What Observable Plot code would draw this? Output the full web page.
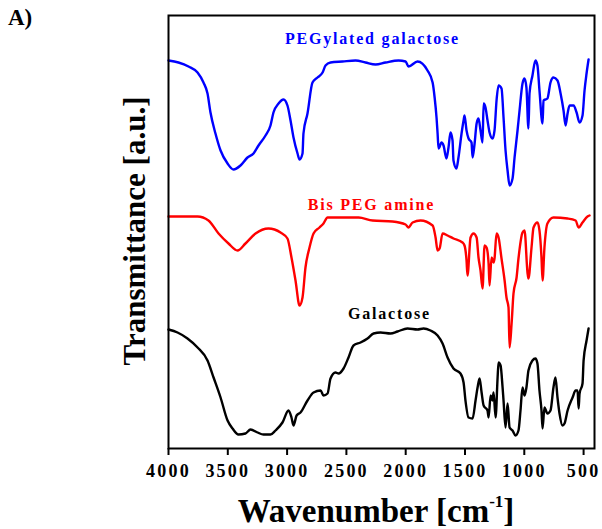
<!DOCTYPE html>
<html>
<head>
<meta charset="utf-8">
<script src="https://cdn.jsdelivr.net/npm/d3@7"></script>
<script src="https://cdn.jsdelivr.net/npm/@observablehq/plot@0.6"></script>
<style>
  html, body { margin: 0; padding: 0; background: #fff; }
  #chart { width: 602px; height: 529px; }
</style>
</head>
<body>
<div id="chart"></div>
<script>
// Wavenumber (cm^-1) and transmittance (a.u.)
const pegylatedGalactose = [
  [4000,388],[3916,386],[3831,382],[3755,376],[3705,366],[3671,355],[3646,336],[3604,315],[3561,298],[3502,285],
  [3452,279],[3393,283],[3334,291],[3283,295],[3241,303],[3182,313],[3140,323],[3115,336],[3072,345],[3030,349],
  [2997,343],[2971,328],[2946,311],[2912,295],[2895,289],[2870,295],[2862,315],[2828,335],[2786,366],[2744,371],
  [2701,376],[2676,383],[2634,386],[2533,387],[2423,388],[2339,386],[2254,384],[2170,386],[2060,388],[2001,387],
  [1976,382],[1900,387],[1816,378],[1773,366],[1756,351],[1740,331],[1731,315],[1723,300],[1698,306],[1681,303],
  [1656,290],[1639,301],[1622,316],[1605,308],[1597,288],[1572,280],[1555,291],[1529,315],[1512,328],[1504,333],
  [1487,318],[1470,310],[1445,306],[1436,291],[1419,305],[1402,325],[1386,330],[1369,318],[1352,306],[1343,345],
  [1327,341],[1310,328],[1293,316],[1268,310],[1251,318],[1234,348],[1217,363],[1192,360],[1175,331],[1158,298],
  [1141,278],[1124,263],[1099,270],[1082,291],[1057,318],[1040,338],[1015,365],[998,370],[982,361],[965,320],
  [956,355],[931,373],[906,388],[889,383],[872,358],[846,325],[838,348],[805,350],[779,366],[754,371],
  [720,368],[694,355],[669,338],[652,323],[635,335],[618,343],[584,343],[559,336],[534,326],[509,333],
  [492,358],[475,375],[458,389]
];
const bisPegAmine = [
  [4000,232],[3755,232],[3663,228],[3578,215],[3494,205],[3418,198],[3351,205],[3266,215],[3157,220],[3055,216],
  [2997,210],[2963,191],[2929,168],[2895,143],[2870,151],[2845,181],[2811,201],[2777,215],[2727,221],[2693,225],
  [2659,231],[2566,231],[2397,231],[2280,228],[2111,227],[2001,224],[1976,221],[1942,226],[1875,228],[1773,223],
  [1748,211],[1731,198],[1714,200],[1689,215],[1647,213],[1597,210],[1521,206],[1504,203],[1487,188],[1479,173],
  [1453,211],[1428,215],[1402,211],[1386,191],[1369,178],[1352,160],[1335,203],[1318,201],[1301,185],[1293,163],
  [1276,191],[1259,186],[1251,190],[1234,215],[1217,211],[1192,190],[1166,168],[1150,151],[1133,141],[1124,101],
  [1107,125],[1091,155],[1065,171],[1049,190],[1015,216],[998,218],[973,176],[965,170],[939,201],[922,221],
  [889,226],[872,218],[855,191],[846,168],[830,201],[805,225],[754,231],[635,230],[567,228],[542,221],
  [509,226],[467,232],[450,233]
];
const galactose = [
  [4000,119],[3924,116],[3840,110],[3755,101],[3671,88],[3620,71],[3561,51],[3502,28],[3460,20],[3410,14],
  [3351,15],[3308,19],[3249,16],[3199,14],[3140,14],[3098,18],[3039,26],[2988,38],[2963,31],[2946,23],
  [2920,33],[2887,36],[2828,48],[2777,56],[2718,58],[2693,53],[2659,55],[2634,70],[2592,76],[2566,75],
  [2524,80],[2482,91],[2440,103],[2381,106],[2322,110],[2271,115],[2212,116],[2128,115],[2069,117],[1985,120],
  [1900,119],[1850,120],[1791,118],[1731,113],[1689,105],[1647,91],[1597,80],[1538,75],[1512,66],[1496,48],
  [1470,31],[1436,30],[1411,48],[1394,61],[1377,70],[1360,56],[1343,43],[1310,38],[1301,31],[1284,53],
  [1268,48],[1259,56],[1242,31],[1225,71],[1217,86],[1200,83],[1183,61],[1175,48],[1158,21],[1141,45],
  [1124,21],[1099,18],[1074,13],[1049,18],[1032,38],[1015,61],[998,53],[982,61],[965,78],[931,88],
  [906,90],[889,85],[872,58],[855,38],[846,20],[830,41],[805,35],[779,38],[754,61],[737,71],
  [720,51],[703,35],[678,23],[661,25],[635,38],[593,51],[567,58],[551,58],[542,40],[534,55],
  [509,65],[500,88],[475,108],[458,120]
];
const seriesNames = ["PEGylated galactose", "Bis PEG amine", "Galactose"];
const seriesColors = ["#0000ff", "#ff0000", "#000000"];
const xTicks = [4000, 3500, 3000, 2500, 2000, 1500, 1000, 500];
const labelWn = [2280, 2289, 2137];
const labelT = [405, 239, 130];

const seriesData = [pegylatedGalactose, bisPegAmine, galactose];
const rows = seriesData.flatMap((arr, i) => arr.map(([wn, t]) => ({series: seriesNames[i], wn, t})));
const labels = seriesNames.map((name, i) => ({name, wn: labelWn[i], t: labelT[i], color: seriesColors[i]}));

const serif = "'Liberation Serif', 'Times New Roman', serif";

const plot = Plot.plot({
  width: 602,
  height: 529,
  marginLeft: 168,
  marginRight: 8,
  marginTop: 15,
  marginBottom: 81,
  style: {fontFamily: serif, background: "#fff", overflow: "visible"},
  x: {domain: [4000, 408], axis: null},
  y: {domain: [0, 433], axis: null},
  color: {domain: seriesNames, range: seriesColors},
  marks: [
    Plot.lineY(rows, {x: "wn", y: "t", z: "series", stroke: "series", strokeWidth: 2.4,
      strokeLinejoin: "round", curve: "monotone-x"}),
    Plot.text(labels, {x: "wn", y: "t", text: "name", fill: "color", lineAnchor: "bottom",
      fontSize: 16, fontWeight: "bold", fontFamily: serif}),
    Plot.frame({stroke: "#000", strokeWidth: 2}),
    Plot.axisX({ticks: xTicks, tickSize: 7, tickPadding: 9, strokeWidth: 2, tickFormat: d => String(d),
      fontSize: 18, fontWeight: "bold", fontFamily: serif, fill: "#000", label: null})
  ]
});
document.getElementById("chart").appendChild(plot);

const svg = d3.select(plot);
svg.selectAll("g[aria-label='x-axis tick label'] text").style("letter-spacing", "2.2px");
svg.selectAll("g[aria-label='text'] text").style("letter-spacing", "1.8px");

// Panel tag
svg.append("text")
  .attr("x", 8).attr("y", 25)
  .attr("text-anchor", "start")
  .style("font-family", serif).style("font-weight", "bold").style("font-size", "23px")
  .attr("fill", "#000")
  .text("A)");

// X axis title with superscript
const xt = svg.append("text")
  .attr("x", 376).attr("y", 522)
  .attr("text-anchor", "middle")
  .attr("font-family", serif).attr("font-weight", "bold").attr("font-size", 33);
xt.append("tspan").text("Wavenumber [cm");
xt.append("tspan").attr("font-size", 17).attr("dy", -15).text("-1");
xt.append("tspan").attr("dy", 15).text("]");

// Y axis title
svg.append("text")
  .attr("transform", "translate(145,231) rotate(-90)")
  .attr("text-anchor", "middle")
  .attr("font-family", serif).attr("font-weight", "bold").attr("font-size", 31)
  .text("Transmittance [a.u.]");
</script>
</body>
</html>
